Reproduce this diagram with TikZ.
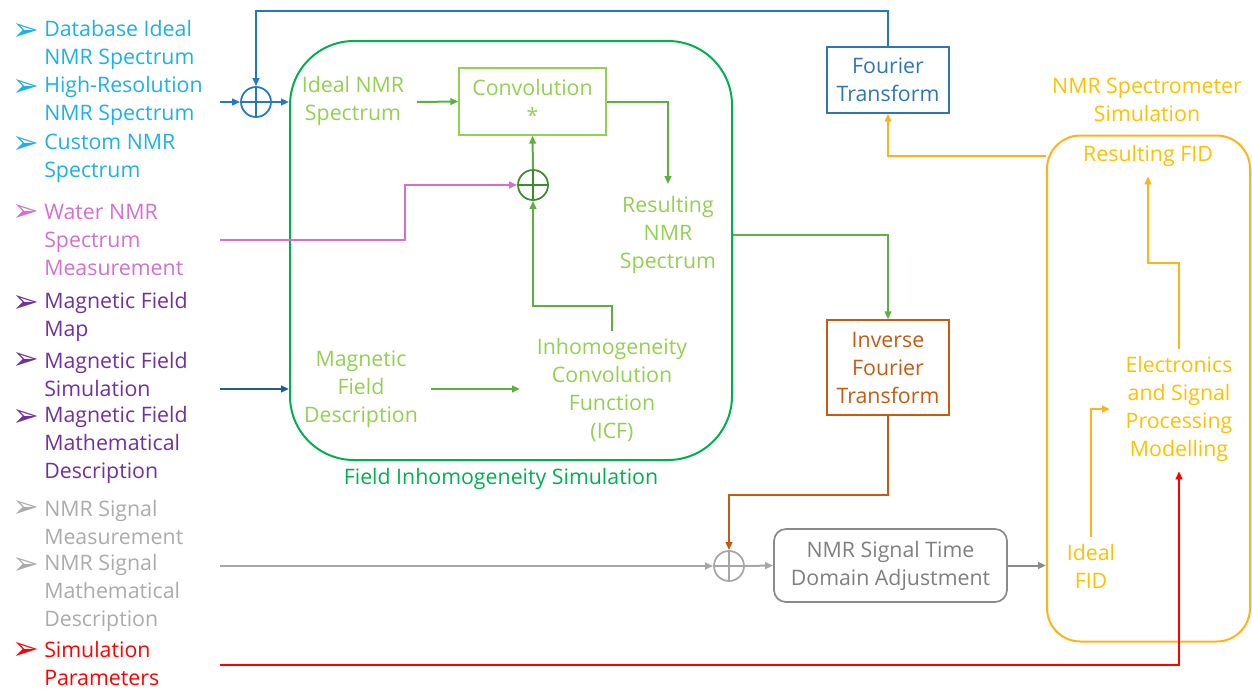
\documentclass[tikz,border=0pt]{standalone}
\usepackage{fontspec}
\setmainfont{Open Sans}
\newfontfamily\symfont{DejaVu Sans}
\usetikzlibrary{arrows.meta}
\definecolor{lblue}{HTML}{1CB0EC}
\definecolor{pinkc}{HTML}{D46FCF}
\definecolor{purplec}{HTML}{7030A0}
\definecolor{lgray}{HTML}{ABABAB}
\definecolor{redc}{HTML}{FF0000}
\definecolor{lgreen}{HTML}{92D050}
\definecolor{bgreen}{HTML}{00B050}
\definecolor{dgreen}{HTML}{3C8C2C}
\definecolor{lngreen}{HTML}{5DB040}
\definecolor{ftblue}{HTML}{2E75B6}
\definecolor{blueline}{HTML}{1F78C8}
\definecolor{tealc}{HTML}{1F5F88}
\definecolor{iftc}{HTML}{C55A11}
\definecolor{amber}{HTML}{FFC000}
\definecolor{amberline}{HTML}{FFB31A}
\definecolor{grayline}{HTML}{A6A6A6}
\definecolor{graybox}{HTML}{8A8A8A}
\definecolor{graytext}{HTML}{7F7F7F}
\begin{document}
\begin{tikzpicture}[x=0.75pt,y=-0.75pt,
  every node/.style={font=\fontsize{16}{21}\selectfont, inner sep=0pt, align=center},
  lst/.style={anchor=west, align=left},
  bul/.style={font=\symfont\fontsize{24}{24}\selectfont},
  ln/.style={line width=1.5pt},
  arr/.style={ln,-{Triangle[length=6pt,width=5pt]}},
  sumj/.style={circle, draw, line width=1.3pt, minimum size=22.5pt},
  thinbox/.style={draw, line width=1pt}]
\useasboundingbox (0,0) rectangle (1252,690);

% ---- left list
\node[bul, text=lblue] (b1) at (26,32) {➢};
\node[lst, text=lblue] (t1) at (44,45) {Database Ideal\\NMR Spectrum};
\node[bul, text=lblue] (b2) at (26,88) {➢};
\node[lst, text=lblue] (t2) at (44,101) {High-Resolution\\NMR Spectrum};
\node[bul, text=lblue] (b3) at (26,145) {➢};
\node[lst, text=lblue] (t3) at (44,158) {Custom NMR\\Spectrum};
\node[bul, text=pinkc] (b4) at (26,213) {➢};
\node[lst, text=pinkc] (t4) at (44,240) {Water NMR\\Spectrum\\Measurement};
\node[bul, text=purplec] (b5) at (26,304) {➢};
\node[lst, text=purplec] (t5) at (44,317) {Magnetic Field\\Map};
\node[bul, text=purplec] (b6) at (26,361) {➢};
\node[lst, text=purplec] (t6) at (44,374) {Magnetic Field\\Simulation};
\node[bul, text=purplec] (b7) at (26,418) {➢};
\node[lst, text=purplec] (t7) at (44,445) {Magnetic Field\\Mathematical\\Description};
\node[bul, text=lgray] (b8) at (26,509) {➢};
\node[lst, text=lgray] (t8) at (44,522) {NMR Signal\\Measurement};
\node[bul, text=lgray] (b9) at (26,566) {➢};
\node[lst, text=lgray] (t9) at (44,593) {NMR Signal\\Mathematical\\Description};
\node[bul, text=redc] (b10) at (26,651) {➢};
\node[lst, text=redc] (t10) at (44,663) {Simulation\\Parameters};

\coordinate (in1) at (220,102);
\coordinate (in4) at (220,240);
\coordinate (in6) at (220,389);
\coordinate (in8) at (220,566);
\coordinate (in10) at (220,665);

% ---- field inhomogeneity block
\node[draw=bgreen, line width=1.5pt, rounded corners=48pt,
      minimum width=331.5pt, minimum height=314.25pt] (fis) at (511,250.5) {};
\node[text=bgreen] (fislabel) at (501,479) {Field Inhomogeneity Simulation};
\node[text=lgreen] (ideal) at (353,101) {Ideal NMR\\Spectrum};
\node[thinbox, draw=lgreen, text=lgreen, minimum width=110.25pt, minimum height=50.25pt] (conv) at (532.5,101.5) {Convolution\\*};
\node[text=lgreen] (resnmr) at (668,235) {Resulting\\NMR\\Spectrum};
\node[sumj, draw=dgreen] (sj2) at (533,185) {};
\node[text=lgreen] (magdesc) at (361,389) {Magnetic\\Field\\Description};
\node[text=lgreen] (icf) at (612,390) {Inhomogeneity\\Convolution\\Function\\(ICF)};

\node[sumj, draw=blueline] (sj1) at (256,102) {};

% ---- transforms
\node[thinbox, draw=ftblue, text=ftblue, minimum width=91.5pt, minimum height=49.5pt] (ft) at (888,80) {Fourier\\Transform};
\node[thinbox, draw=iftc, text=iftc, minimum width=91.5pt, minimum height=71.25pt] (ift) at (888,367.5) {Inverse\\Fourier\\Transform};

% ---- time domain
\node[sumj, draw=grayline] (sj3) at (729,566) {};
\node[draw=graybox, line width=1.3pt, rounded corners=9pt, text=graytext, minimum width=174.75pt, minimum height=54.75pt] (tda) at (890.5,565.5) {NMR Signal Time\\Domain Adjustment};

% ---- spectrometer
\node[draw=amberline, line width=1.5pt, rounded corners=25pt, minimum width=152.25pt, minimum height=379.5pt] (spec) at (1148.5,388.5) {};
\node[text=amber] (speclabel) at (1147,100) {NMR Spectrometer\\Simulation};
\node[text=amber] (resfid) at (1148,156) {Resulting FID};
\node[text=amber] (elec) at (1179,409) {Electronics\\and Signal\\Processing\\Modelling};
\node[text=amber] (idealfid) at (1091,566) {Ideal\\FID};

% ---- cross marks in summing junctions
\draw[blueline, line width=1.1pt] (sj1.north) -- (sj1.south) (sj1.west) -- (sj1.east);
\draw[dgreen, line width=1.1pt] (sj2.north) -- (sj2.south) (sj2.west) -- (sj2.east);
\draw[grayline, line width=1.1pt] (sj3.north) -- (sj3.south) (sj3.west) -- (sj3.east);

% ---- connectors
\draw[arr, blueline] (ft.north) -- ++(0,-35) -| (sj1.north);
\draw[arr, blueline] (in1) -- (sj1.west);
\draw[arr, blueline] (sj1.east) -- (sj1 -| fis.west);
\draw[arr, lngreen] (417,102) -- (conv.west);
\draw[arr, lngreen] (conv.east) -| ([yshift=9pt]resnmr.north);
\draw[arr, pinkc] (in4) -| (405,185) -- (sj2.west);
\draw[arr, lngreen] (sj2.north) -- (conv.south);
\draw[arr, lngreen] ([yshift=5pt]icf.north) -- ++(0,-25) -| (sj2.south);
\draw[arr, lngreen] (431,389) -- (520,389);
\draw[arr, tealc] (in6) -- (in6 -| fis.west);
\draw[arr, lngreen] ([yshift=12pt]fis.east) -| (ift.north);
\draw[arr, iftc] (ift.south) -- ++(0,79) -| (sj3.north);
\draw[arr, grayline] (in8) -- (sj3.west);
\draw[arr, grayline] (sj3.east) -- (tda.west);
\draw[arr, graybox] (tda.east) -- (tda.east -| spec.west);
\draw[arr, amberline] (resfid -| spec.west) -| (ft.south);
\draw[arr, amberline] ([yshift=5pt]elec.north) -- ++(0,-86) -| ([yshift=-7pt]resfid.south);
\draw[arr, amberline] ([yshift=5pt]idealfid.north) |- (1110,409);
\draw[arr, redc] (in10) -| ([yshift=-7pt]elec.south);
\end{tikzpicture}
\end{document}
